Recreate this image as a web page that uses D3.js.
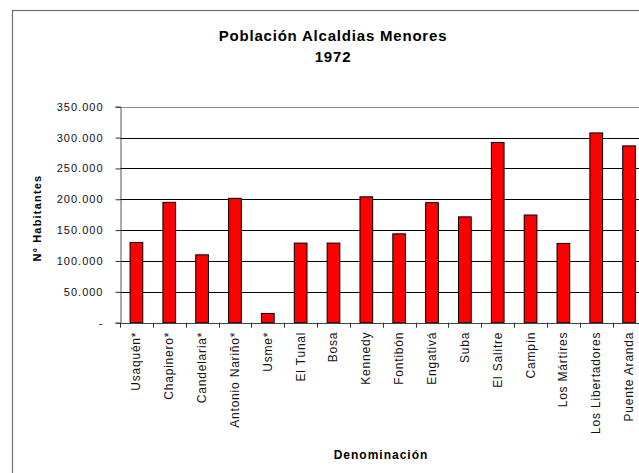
<!DOCTYPE html>
<html>
<head>
<meta charset="utf-8">
<script src="https://cdn.jsdelivr.net/npm/d3@7/dist/d3.min.js"></script>
<style>
  html, body { margin: 0; padding: 0; background: #fff; overflow: hidden; }
  svg { display: block; }
</style>
</head>
<body>
<script>
const categories = ["Usaquén*", "Chapinero*", "Candelaria*", "Antonio Nariño*", "Usme*", "El Tunal", "Bosa", "Kennedy", "Fontibón", "Engativá", "Suba", "El Salitre", "Campín", "Los Mártires", "Los Libertadores", "Puente Aranda"];
const poblacion = [130000, 195000, 110000, 201500, 15000, 129000, 129000, 204000, 144000, 194500, 171500, 292000, 174500, 128500, 307500, 286500];
const yTicks = [0, 50000, 100000, 150000, 200000, 250000, 300000, 350000];
const titleLines = ["Población Alcaldias Menores", "1972"];
const yTitle = "Nº Habitantes";
const xTitle = "Denominación";

const W = 639, H = 473;
const plot = { left: 120, right: 645.5, top: 106.7, bottom: 322.7 };

const svg = d3.select("body").append("svg").attr("width", W).attr("height", H);

// outer chart border (cut off at right/bottom as in the reference)
svg.append("rect").attr("x", 12.5).attr("y", 10.5).attr("width", 700).attr("height", 600)
  .attr("fill", "#fff").attr("stroke", "#6e6e6e").attr("stroke-width", 1.2);

const x = d3.scaleBand().domain(categories).range([plot.left, plot.right]).padding(0);
const y = d3.scaleLinear().domain([0, 350000]).range([plot.bottom, plot.top]);

const loc = d3.formatLocale({ decimal: ",", thousands: ".", grouping: [3], currency: ["$", ""] });
const fmt = v => v === 0 ? "-" : loc.format(",")(v);

// gridlines
svg.append("g").selectAll("line").data(yTicks.filter(t => t > 0 && t < 350000)).join("line")
  .attr("x1", plot.left).attr("x2", plot.right)
  .attr("y1", d => Math.round(y(d)) + 0.5).attr("y2", d => Math.round(y(d)) + 0.5)
  .attr("stroke", "#000").attr("stroke-width", 1);

// plot area border (top line grey)
svg.append("line").attr("x1", plot.left).attr("x2", plot.right)
  .attr("y1", Math.round(y(350000)) + 0.5).attr("y2", Math.round(y(350000)) + 0.5)
  .attr("stroke", "#8a8a8a").attr("stroke-width", 1);

// bars
const barRatio = 0.387;
svg.append("g").selectAll("rect").data(poblacion).join("rect")
  .attr("x", (d, i) => x(categories[i]) + x.bandwidth() * (1 - barRatio) / 2)
  .attr("width", x.bandwidth() * barRatio)
  .attr("y", d => y(d))
  .attr("height", d => y(0) - y(d))
  .attr("fill", "#ff0000").attr("stroke", "#000").attr("stroke-width", 1);

// y axis
const yAxis = svg.append("g").attr("transform", `translate(${plot.left + 0.5},0)`)
  .call(d3.axisLeft(y).tickValues(yTicks).tickSize(5).tickPadding(12).tickFormat(fmt));
yAxis.select(".domain").attr("stroke", "#555");
yAxis.selectAll(".tick line").attr("stroke", "#333");
yAxis.selectAll(".tick text").attr("font-family", "Liberation Sans, Arial, sans-serif")
  .attr("font-size", 11).attr("letter-spacing", "1px").attr("fill", "#111");

// x axis baseline
svg.append("line").attr("x1", plot.left).attr("x2", plot.right)
  .attr("y1", Math.round(y(0)) + 0.5).attr("y2", Math.round(y(0)) + 0.5)
  .attr("stroke", "#444").attr("stroke-width", 1);

// x ticks at band boundaries
svg.append("g").selectAll("line").data(categories).join("line")
  .attr("x1", d => Math.round(x(d)) + 0.5).attr("x2", d => Math.round(x(d)) + 0.5)
  .attr("y1", y(0)).attr("y2", y(0) + 5).attr("stroke", "#333");

// x labels
svg.append("g").selectAll("text").data(categories).join("text")
  .attr("transform", d => `translate(${x(d) + x.bandwidth() / 2},${plot.bottom + 9}) rotate(-90)`)
  .attr("text-anchor", "end").attr("dominant-baseline", "central")
  .attr("font-family", "Liberation Sans, Arial, sans-serif").attr("font-size", 12)
  .attr("letter-spacing", "0.8px").attr("fill", "#111")
  .text(d => d);

// title
svg.append("text").attr("x", 333).attr("y", 41).attr("text-anchor", "middle")
  .attr("font-family", "Liberation Sans, Arial, sans-serif").attr("font-size", 15).attr("font-weight", "bold")
  .attr("letter-spacing", "0.8px").attr("fill", "#000")
  .text(titleLines[0]);
svg.append("text").attr("x", 333).attr("y", 62).attr("text-anchor", "middle")
  .attr("font-family", "Liberation Sans, Arial, sans-serif").attr("font-size", 15).attr("font-weight", "bold")
  .attr("letter-spacing", "0.8px").attr("fill", "#000")
  .text(titleLines[1]);

// axis titles
svg.append("text").attr("transform", "translate(37,218) rotate(-90)")
  .attr("text-anchor", "middle").attr("dominant-baseline", "central")
  .attr("font-family", "Liberation Sans, Arial, sans-serif").attr("font-size", 11).attr("font-weight", "bold")
  .attr("letter-spacing", "1.2px").attr("fill", "#000").text(yTitle);
svg.append("text").attr("x", 381).attr("y", 459).attr("text-anchor", "middle")
  .attr("font-family", "Liberation Sans, Arial, sans-serif").attr("font-size", 12).attr("font-weight", "bold")
  .attr("letter-spacing", "1px").attr("fill", "#000").text(xTitle);
</script>
</body>
</html>
